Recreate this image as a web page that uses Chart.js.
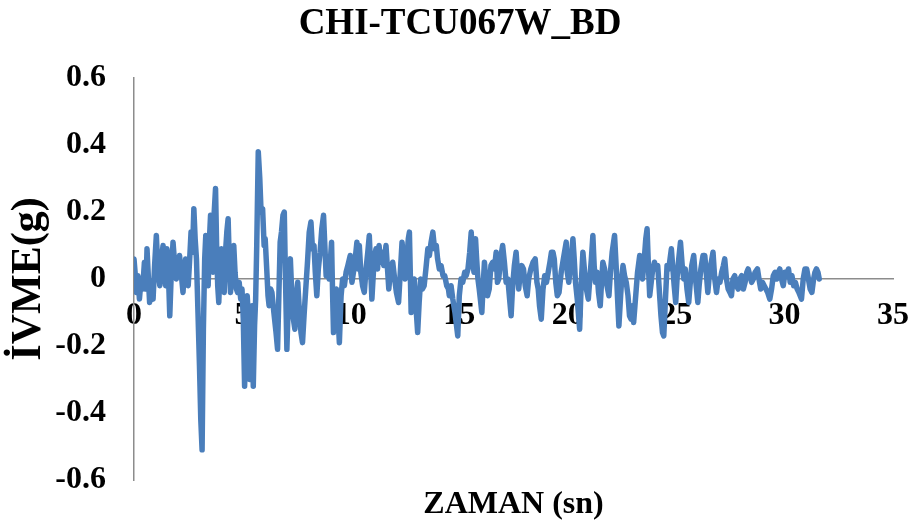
<!DOCTYPE html>
<html>
<head>
<meta charset="utf-8">
<script src="https://cdn.jsdelivr.net/npm/chart.js@4/dist/chart.umd.min.js"></script>
<style>
  html, body { margin: 0; padding: 0; background: #ffffff; }
  #wrap { width: 920px; height: 531px; }
</style>
</head>
<body>
<div id="wrap"><canvas id="c" width="920" height="531"></canvas></div>
<script>
// Ground acceleration record: time (s) and acceleration (g)
const times = [
  0.00, 0.05, 0.10, 0.18, 0.25, 0.33, 0.40, 0.48, 0.55, 0.60, 0.68, 0.72, 0.80, 0.88, 0.95,
  1.03, 1.10, 1.19, 1.26, 1.34, 1.40, 1.46, 1.52, 1.58, 1.65, 1.72, 1.80, 1.87, 1.95,
  2.02, 2.10, 2.16, 2.26, 2.32, 2.38, 2.44, 2.50, 2.56, 2.63, 2.70, 2.76, 2.82, 2.88, 2.95,
  3.02, 3.08, 3.14, 3.20, 3.26, 3.31, 3.37, 3.42, 3.48, 3.53, 3.58, 3.64, 3.70, 3.76, 3.81, 3.86, 3.91, 3.97,
  4.03, 4.10, 4.16, 4.22, 4.28, 4.34, 4.40, 4.45, 4.52, 4.60, 4.66, 4.72, 4.78, 4.85, 4.92, 4.98,
  5.04, 5.10, 5.16, 5.22, 5.28, 5.34, 5.40, 5.45, 5.50, 5.56, 5.61, 5.66, 5.73, 5.80, 5.86, 5.93,
  6.00, 6.05, 6.12, 6.18, 6.23, 6.30, 6.36, 6.45, 6.55, 6.62, 6.68, 6.74, 6.80, 6.87, 6.93, 6.98,
  7.05, 7.11, 7.16, 7.21, 7.28, 7.35, 7.42, 7.48, 7.55, 7.62, 7.70, 7.77, 7.85, 7.92,
  8.00, 8.08, 8.16, 8.23, 8.30, 8.36, 8.43, 8.50, 8.58, 8.66, 8.74, 8.80, 8.86, 8.93,
  9.00, 9.06, 9.11, 9.16, 9.20, 9.27, 9.33, 9.40, 9.47, 9.55, 9.62, 9.70, 9.78, 9.86, 9.97,
  10.05, 10.12, 10.20, 10.28, 10.34, 10.39, 10.46, 10.54, 10.62, 10.70, 10.78, 10.85, 10.92, 10.97,
  11.04, 11.10, 11.16, 11.23, 11.30, 11.37, 11.44, 11.52, 11.62, 11.68, 11.75, 11.82, 11.93,
  12.02, 12.10, 12.20, 12.28, 12.36, 12.43, 12.50, 12.58, 12.65, 12.70, 12.74, 12.78, 12.85, 12.92,
  13.00, 13.08, 13.15, 13.22, 13.30, 13.38, 13.46, 13.55, 13.62, 13.70, 13.78, 13.86, 13.94,
  14.00, 14.08, 14.16, 14.25, 14.33, 14.42, 14.50, 14.54, 14.62, 14.70, 14.80, 14.93,
  15.00, 15.08, 15.16, 15.25, 15.32, 15.40, 15.48, 15.55, 15.62, 15.68, 15.75, 15.80, 15.86, 15.92,
  16.04, 16.10, 16.16, 16.22, 16.30, 16.38, 16.46, 16.54, 16.62, 16.70, 16.76, 16.82, 16.90,
  17.00, 17.08, 17.16, 17.24, 17.32, 17.39, 17.46, 17.54, 17.62, 17.68, 17.74, 17.80, 17.88, 17.96,
  18.04, 18.13, 18.20, 18.30, 18.40, 18.50, 18.58, 18.64, 18.70, 18.78, 18.86, 18.94,
  19.02, 19.10, 19.18, 19.25, 19.32, 19.38, 19.45, 19.52, 19.60, 19.70, 19.80, 19.93, 19.98,
  20.05, 20.14, 20.24, 20.30, 20.36, 20.44, 20.55, 20.62, 20.70, 20.78, 20.86, 20.95,
  21.02, 21.09, 21.16, 21.22, 21.28, 21.35, 21.42, 21.50, 21.56, 21.62, 21.70, 21.78, 21.84, 21.90, 21.97,
  22.05, 22.16, 22.24, 22.30, 22.36, 22.44, 22.50, 22.55, 22.62, 22.70, 22.78, 22.85, 22.92, 22.98,
  23.04, 23.10, 23.16, 23.22, 23.32, 23.38, 23.45, 23.52, 23.60, 23.66, 23.72, 23.78, 23.85, 23.92,
  24.00, 24.08, 24.15, 24.22, 24.30, 24.37, 24.43, 24.50, 24.58, 24.66, 24.72, 24.78, 24.85, 24.91, 24.98,
  25.05, 25.12, 25.20, 25.28, 25.35, 25.42, 25.50, 25.58, 25.64, 25.72, 25.81, 25.88, 25.94,
  26.00, 26.06, 26.14, 26.24, 26.32, 26.40, 26.46, 26.54, 26.62, 26.70, 26.78, 26.86, 26.94,
  27.02, 27.10, 27.18, 27.24, 27.32, 27.40, 27.48, 27.55, 27.62, 27.70, 27.78, 27.86, 27.94,
  28.02, 28.10, 28.18, 28.26, 28.32, 28.40, 28.48, 28.56, 28.64, 28.75, 28.82, 28.90, 28.98,
  29.06, 29.14, 29.22, 29.32, 29.40, 29.48, 29.56, 29.64, 29.72, 29.78, 29.86, 29.94,
  30.02, 30.10, 30.18, 30.26, 30.34, 30.42, 30.50, 30.58, 30.66, 30.78, 30.86, 30.94,
  31.02, 31.10, 31.18, 31.26, 31.34, 31.40, 31.47, 31.54, 31.60
];

const accel = [
  0.06, 0.02, -0.04, 0.01, -0.06, 0.00, -0.03, 0.05, -0.03, 0.09, -0.02, -0.07, -0.03, -0.06, 0.04,
  0.13, 0.03, -0.02, 0.06, 0.10, 0.02, -0.02, 0.09, 0.03, -0.11, 0.02, 0.11, 0.05, 0.00,
  0.04, 0.07, 0.03, -0.04, 0.02, 0.06, 0.01, -0.02, 0.05, 0.14, 0.08, 0.21, 0.12, 0.06, -0.10,
  -0.26, -0.42, -0.51, -0.15, 0.06, 0.13, 0.03, -0.02, 0.12, 0.19, 0.06, 0.02, 0.20, 0.27, 0.10, -0.02, -0.07, 0.04,
  0.09, 0.02, -0.04, 0.08, 0.14, 0.18, 0.04, -0.04, 0.03, 0.10, 0.02, -0.03, -0.04, -0.01, -0.06, -0.03,
  -0.12, -0.32, -0.20, -0.05, -0.12, -0.30, -0.16, -0.08, -0.32, -0.14, -0.06, 0.10, 0.38, 0.30, 0.20, 0.21,
  0.10, 0.12, 0.03, -0.05, -0.08, -0.03, -0.04, -0.10, -0.16, -0.21, -0.05, 0.11, 0.14, 0.19, 0.20, 0.02,
  -0.21, -0.08, 0.04, 0.06, -0.05, -0.12, -0.15, -0.05, -0.01, -0.09, -0.16, -0.19, -0.10, -0.03,
  0.05, 0.14, 0.17, 0.09, 0.10, 0.02, -0.05, 0.03, 0.08, 0.15, 0.19, 0.10, 0.01, 0.03,
  0.00, 0.06, 0.11, -0.05, -0.16, -0.08, -0.03, -0.10, -0.19, -0.05, 0.00, -0.02, 0.02, 0.04, 0.07,
  -0.01, 0.02, 0.06, 0.11, 0.03, 0.10, 0.02, -0.02, -0.04, 0.03, 0.08, 0.13, 0.02, -0.06,
  0.02, 0.07, 0.09, 0.03, 0.10, 0.05, 0.08, 0.04, 0.10, 0.04, -0.03, 0.02, 0.05,
  0.00, -0.04, -0.07, 0.02, 0.11, 0.05, 0.00, 0.06, 0.12, 0.14, 0.02, -0.10, -0.04, 0.00,
  -0.08, -0.16, -0.07, 0.00, -0.03, -0.02, 0.03, 0.09, 0.07, 0.11, 0.14, 0.09, 0.10,
  0.06, 0.03, 0.04, 0.01, 0.01, -0.02, -0.03, -0.05, -0.02, -0.06, -0.10, -0.17,
  -0.05, 0.00, -0.01, 0.02, 0.01, 0.03, 0.08, 0.14, 0.05, 0.02, 0.12, 0.06, 0.00, -0.03,
  -0.10, -0.02, 0.05, 0.00, -0.05, -0.03, 0.04, 0.05, 0.03, 0.08, -0.01, 0.00, 0.06,
  0.10, 0.05, -0.01, 0.00, -0.06, -0.11, -0.02, 0.04, 0.08, 0.02, -0.03, 0.01, 0.04, 0.03,
  -0.02, -0.05, 0.00, 0.03, 0.05, 0.06, -0.01, -0.03, -0.08, -0.12, -0.03, 0.01,
  -0.01, 0.02, 0.05, 0.08, 0.08, 0.06, -0.01, -0.05, -0.04, 0.02, 0.06, 0.11, 0.02,
  -0.01, 0.05, 0.12, 0.06, -0.01, -0.06, -0.15, -0.02, 0.08, 0.02, -0.03, -0.06,
  0.00, 0.06, 0.13, 0.04, -0.01, 0.02, -0.04, -0.08, -0.01, 0.05, 0.03, -0.01, -0.03, -0.05, 0.02,
  0.08, 0.13, 0.03, -0.06, -0.14, -0.05, 0.01, 0.04, 0.01, -0.01, -0.05, -0.11, -0.12, -0.08,
  -0.13, -0.08, -0.03, 0.02, 0.07, 0.02, 0.00, 0.05, 0.12, 0.15, 0.04, -0.05, -0.01, 0.03,
  0.05, 0.03, 0.04, -0.03, -0.11, -0.16, -0.17, -0.07, 0.04, 0.03, 0.06, 0.09, 0.03, -0.02, -0.07,
  0.01, 0.06, 0.11, 0.04, 0.00, 0.03, -0.03, -0.07, -0.02, 0.04, 0.07, 0.01, -0.03,
  -0.07, -0.02, 0.03, 0.07, 0.07, 0.01, -0.04, 0.02, 0.05, 0.08, 0.00, -0.04, 0.00,
  -0.01, 0.02, 0.04, 0.06, 0.00, -0.03, -0.04, -0.05, 0.00, 0.01, -0.02, -0.03, 0.00,
  0.01, -0.03, -0.01, 0.02, 0.03, 0.01, -0.01, 0.00, 0.02, 0.03, 0.00, -0.03, -0.01,
  -0.02, -0.03, -0.04, -0.06, -0.03, 0.01, 0.02, 0.00, 0.02, 0.03, 0.00, -0.02,
  0.02, 0.01, 0.03, -0.01, 0.01, -0.02, -0.01, -0.03, -0.04, -0.06, 0.00, 0.03,
  0.03, 0.00, -0.03, -0.04, 0.00, 0.02, 0.03, 0.02, 0.00
];

const xTicks = [0, 5, 10, 15, 20, 25, 30, 35];
const yTicks = [-0.6, -0.4, -0.2, 0, 0.2, 0.4, 0.6];

const chartTitle = 'CHI-TCU067W_BD';
const xTitle = 'ZAMAN (sn)';
const yTitle = 'İVME(g)';

const points = times.map((t, i) => ({ x: t, y: accel[i] }));

const FONT = "'Liberation Serif', 'Times New Roman', serif";
const AXIS_GREY = '#8c8c8c';

new Chart(document.getElementById('c'), {
  type: 'line',
  data: {
    datasets: [{
      data: points,
      borderColor: '#4a7ebb',
      borderWidth: 5.5,
      borderJoinStyle: 'round',
      borderCapStyle: 'round',
      pointRadius: 0,
      tension: 0,
      fill: false
    }]
  },
  options: {
    responsive: false,
    animation: false,
    devicePixelRatio: 1,
    layout: { padding: 0 },
    plugins: {
      legend: { display: false },
      tooltip: { enabled: false },
      title: {
        display: true,
        text: chartTitle,
        color: '#000000',
        font: { family: FONT, size: 37, weight: 'bold' },
        padding: { top: 2, bottom: 31.6 }
      },
      subtitle: {
        display: true,
        text: xTitle,
        position: 'bottom',
        fullSize: false,
        color: '#000000',
        font: { family: FONT, size: 32, weight: 'bold' },
        padding: { top: 6, bottom: 6.6 }
      }
    },
    scales: {
      x: {
        type: 'linear',
        position: { y: 0 },
        min: 0,
        max: 35,
        afterBuildTicks: (scale) => { scale.ticks = xTicks.map(v => ({ value: v })); },
        // the end labels may overhang the plot; no extra side margin for them
        afterFit: (scale) => { scale.paddingLeft = 0; scale.paddingRight = 0; },
        grid: { display: false, drawTicks: false },
        border: { display: true, color: AXIS_GREY, width: 1.5 },
        ticks: {
          color: '#000000',
          font: { family: FONT, size: 32, weight: 'bold' },
          padding: 18,
          maxRotation: 0,
          autoSkip: false,
          callback: (v) => String(v)
        }
      },
      y: {
        type: 'linear',
        position: 'left',
        min: -0.6,
        max: 0.6,
        afterBuildTicks: (scale) => { scale.ticks = yTicks.map(v => ({ value: v })); },
        afterFit: (scale) => { scale.width = 134; },
        grid: { display: false, drawTicks: false },
        border: { display: true, color: AXIS_GREY, width: 1.5 },
        title: {
          display: true,
          text: yTitle,
          color: '#000000',
          font: { family: FONT, size: 42, weight: 'bold' },
          padding: { top: 4, bottom: 0 }
        },
        ticks: {
          color: '#000000',
          font: { family: FONT, size: 32, weight: 'bold' },
          padding: 28,
          autoSkip: false,
          callback: (v) => (Math.abs(v) < 1e-9 ? '0' : String(Math.round(v * 10) / 10))
        }
      },
      // empty right-hand strip that keeps the plot clear of the canvas edge
      yRight: {
        type: 'linear',
        position: 'right',
        display: true,
        min: -0.6,
        max: 0.6,
        afterFit: (scale) => { scale.width = 27; },
        grid: { display: false, drawTicks: false },
        border: { display: false },
        ticks: { display: false }
      }
    }
  }
});
</script>
</body>
</html>
